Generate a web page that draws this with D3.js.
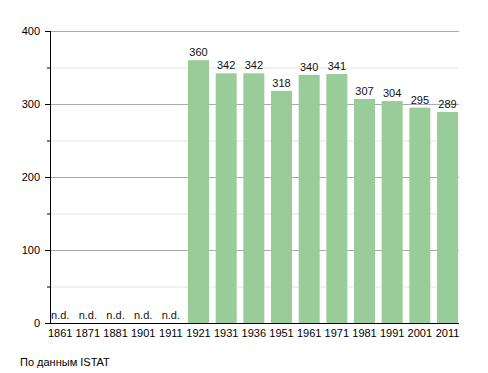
<!DOCTYPE html>
<html>
<head>
<meta charset="utf-8">
<script src="https://cdn.jsdelivr.net/npm/d3@7"></script>
<style>
  body { margin: 0; background: #fff; }
  text { font-family: "Liberation Sans", Arial, sans-serif; }
</style>
</head>
<body>
<div id="chart"></div>
<script>
const years = ["1861", "1871", "1881", "1901", "1911", "1921", "1931", "1936", "1951", "1961", "1971", "1981", "1991", "2001", "2011"];
const population = [null, null, null, null, null, 360, 342, 342, 318, 340, 341, 307, 304, 295, 289];
const yTicks = [0, 100, 200, 300, 400];
const yMinor = [50, 150, 250, 350];
const source = "По данным  ISTAT";

const width = 488, height = 373;
const svg = d3.select("#chart").append("svg")
    .attr("width", width)
    .attr("height", height);

const x = d3.scaleBand()
    .domain(years)
    .range([49.7, 458])
    .paddingInner(0.241)
    .paddingOuter(0);

const y = d3.scaleLinear()
    .domain([0, 400])
    .range([323, 31]);

const left = 50, right = 459;

// grid
svg.append("g")
    .selectAll("line")
    .data(yMinor)
    .join("line")
    .attr("x1", left).attr("x2", right)
    .attr("y1", d => y(d) + 0.5).attr("y2", d => y(d) + 0.5)
    .attr("stroke", "#e4e4e4");

svg.append("g")
    .selectAll("line")
    .data(yTicks.filter(d => d > 0))
    .join("line")
    .attr("x1", left).attr("x2", right)
    .attr("y1", d => y(d) + 0.5).attr("y2", d => y(d) + 0.5)
    .attr("stroke", "#aaa");

// bars
const data = years.map((yr, i) => ({ year: yr, value: population[i] }));

svg.append("g")
    .selectAll("rect")
    .data(data.filter(d => d.value != null))
    .join("rect")
    .attr("x", d => x(d.year))
    .attr("y", d => y(d.value))
    .attr("width", x.bandwidth())
    .attr("height", d => y(0) - y(d.value))
    .attr("fill", "#99cc99");

// value labels
svg.append("g")
    .selectAll("text")
    .data(data)
    .join("text")
    .attr("x", d => x(d.year) + x.bandwidth() / 2)
    .attr("y", d => d.value == null ? y(0) - 4 : y(d.value) - 4)
    .attr("text-anchor", "middle")
    .attr("font-size", 11)
    .attr("fill", "#111")
    .text(d => d.value == null ? "n.d." : d.value);

// y axis
const yAxis = svg.append("g");
yAxis.append("line")
    .attr("x1", left + 0.5).attr("x2", left + 0.5)
    .attr("y1", y(400)).attr("y2", y(0))
    .attr("stroke", "#000");
yAxis.selectAll(".major")
    .data(yTicks)
    .join("line")
    .attr("class", "major")
    .attr("x1", left - 5).attr("x2", left)
    .attr("y1", d => y(d) + 0.5).attr("y2", d => y(d) + 0.5)
    .attr("stroke", "#000");
yAxis.selectAll(".minor")
    .data(yMinor)
    .join("line")
    .attr("class", "minor")
    .attr("x1", left - 3).attr("x2", left)
    .attr("y1", d => y(d) + 0.5).attr("y2", d => y(d) + 0.5)
    .attr("stroke", "#000");
yAxis.selectAll("text")
    .data(yTicks)
    .join("text")
    .attr("x", left - 10)
    .attr("y", d => y(d) + 4)
    .attr("text-anchor", "end")
    .attr("font-size", 11)
    .text(d => d);

// x axis
svg.append("line")
    .attr("x1", left).attr("x2", right)
    .attr("y1", y(0) + 0.5).attr("y2", y(0) + 0.5)
    .attr("stroke", "#000");
svg.append("g")
    .selectAll("text")
    .data(years)
    .join("text")
    .attr("x", d => x(d) + x.bandwidth() / 2)
    .attr("y", y(0) + 14)
    .attr("text-anchor", "middle")
    .attr("font-size", 11)
    .text(d => d);

svg.append("text")
    .attr("x", 20)
    .attr("y", 366)
    .attr("font-size", 11)
    .text(source);
</script>
</body>
</html>
